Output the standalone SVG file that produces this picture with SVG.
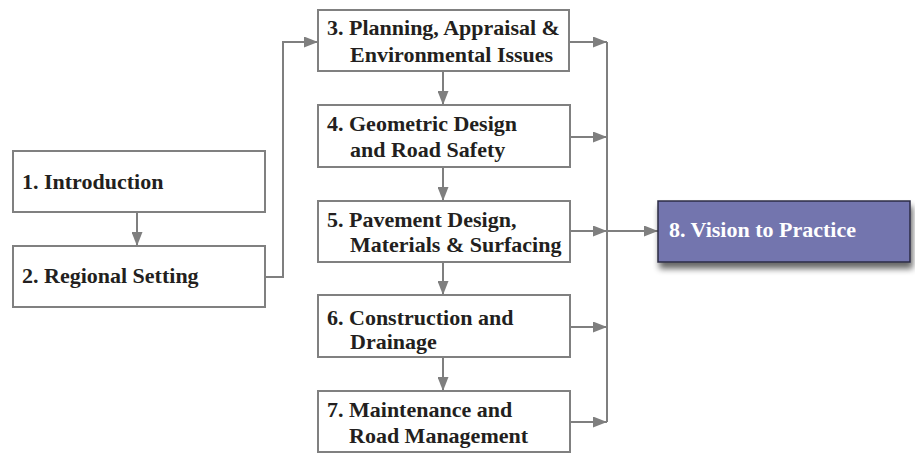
<svg xmlns="http://www.w3.org/2000/svg" width="915" height="453" viewBox="0 0 915 453">
<defs>
<marker id="ah" viewBox="0 0 14 11" refX="14" refY="5.5" markerWidth="14" markerHeight="11" markerUnits="userSpaceOnUse" orient="auto">
<path d="M0,0 L14,5.5 L0,11 z" fill="#7f7f7f"/>
</marker>
<filter id="sh" x="-10%" y="-20%" width="125%" height="160%">
<feGaussianBlur in="SourceAlpha" stdDeviation="3"/>
<feOffset dx="2" dy="6" result="b"/>
<feComponentTransfer><feFuncA type="linear" slope="0.6"/></feComponentTransfer>
<feMerge><feMergeNode/><feMergeNode in="SourceGraphic"/></feMerge>
</filter>
</defs>
<style>
.box{fill:#fff;stroke:#808080;stroke-width:2}
.t{font-family:"Liberation Serif","Times New Roman",serif;font-weight:bold;font-size:22px;fill:#231f20}
.w{fill:#fff}
.c{fill:none;stroke:#7f7f7f;stroke-width:2}
.a{marker-end:url(#ah)}
</style>
<rect width="915" height="453" fill="#fff"/>
<g id="connectors">
<path class="c a" d="M137,212 V246"/>
<path class="c a" d="M265,277 H283 V42 H318"/>
<path class="c a" d="M443,71 V105"/>
<path class="c a" d="M443,167 V201"/>
<path class="c a" d="M443,262 V295"/>
<path class="c a" d="M443,357 V391"/>
<path class="c a" d="M569,42 H607"/>
<path class="c a" d="M570,137 H607"/>
<path class="c a" d="M570,231 H607"/>
<path class="c a" d="M570,327 H607"/>
<path class="c a" d="M570,422 H607"/>
<path class="c" d="M607,42 V422"/>
<path class="c a" d="M607,231 H658"/>
</g>
<g id="n1">
<rect class="box" x="13" y="151" width="252" height="61"/>
<text class="t" x="22" y="189">1. Introduction</text>
</g>
<g id="n2">
<rect class="box" x="13" y="246" width="252" height="61"/>
<text class="t" x="22" y="283">2. Regional Setting</text>
</g>
<g id="n3">
<rect class="box" x="318" y="10" width="251" height="61"/>
<text class="t" x="327" y="35">3. Planning, Appraisal &amp;</text>
<text class="t" x="350" y="62">Environmental Issues</text>
</g>
<g id="n4">
<rect class="box" x="318" y="105" width="252" height="62"/>
<text class="t" x="327" y="131">4. Geometric Design</text>
<text class="t" x="350" y="157">and Road Safety</text>
</g>
<g id="n5">
<rect class="box" x="318" y="201" width="252" height="61"/>
<text class="t" x="327" y="227">5. Pavement Design,</text>
<text class="t" x="350" y="252">Materials &amp; Surfacing</text>
</g>
<g id="n6">
<rect class="box" x="318" y="295" width="252" height="62"/>
<text class="t" x="327" y="325">6. Construction and</text>
<text class="t" x="350" y="349">Drainage</text>
</g>
<g id="n7">
<rect class="box" x="318" y="391" width="252" height="61"/>
<text class="t" x="327" y="417">7. Maintenance and</text>
<text class="t" x="349" y="443">Road Management</text>
</g>
<g id="n8">
<rect x="658" y="201" width="252" height="61" fill="#7375ae" stroke="#2b2b45" stroke-width="1.5" filter="url(#sh)"/>
<text class="t w" x="669" y="237">8. Vision to Practice</text>
</g>
</svg>
